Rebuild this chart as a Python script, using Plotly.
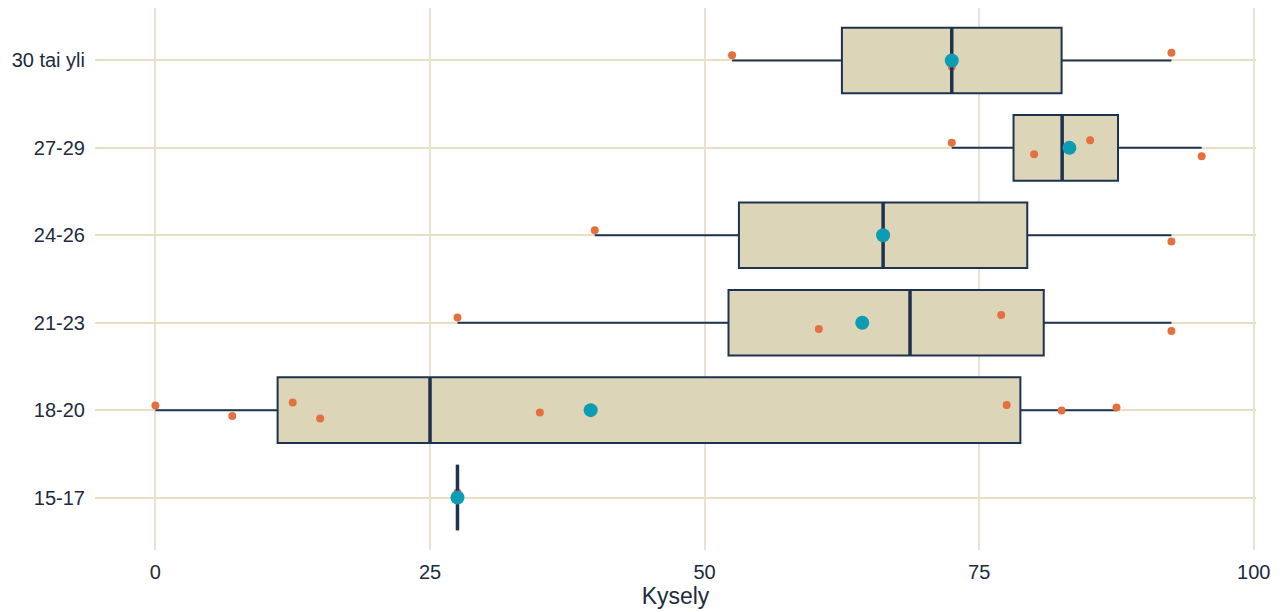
import numpy as np
import plotly.graph_objects as go

# ---- data ----
groups = ["15-17", "18-20", "21-23", "24-26", "27-29", "30 tai yli"]
v_15_17 = [27.5]
v_18_20 = [0.0, 7.0, 12.5, 15.0, 35.0, 77.5, 82.5, 87.5]
v_21_23 = [27.5, 60.4, 77.0, 92.5]
v_24_26 = [40.0, 92.5]
v_27_29 = [72.5, 80.0, 85.1, 95.25]
v_30_plus = [52.5, 72.5, 92.5]
group_values = [v_15_17, v_18_20, v_21_23, v_24_26, v_27_29, v_30_plus]
x_ticks = [0, 25, 50, 75, 100]
x_title = "Kysely"

# ---- styles ----
FILL = "#DDD5B8"
EDGE = "#1E3350"
ORANGE = "#E5703F"
TEAL = "#0E9CB4"
TEXT = "#1C2B40"
FONT = "Liberation Sans, Arial, sans-serif"
BOXW = 0.75

fig = go.Figure()

# boxes from statistics (R type-7 quantiles, like ggplot)
for i, vals in enumerate(group_values):
    v = np.array(vals, dtype=float)
    fig.add_trace(go.Box(
        orientation="h", y=[i],
        q1=[np.percentile(v, 25)], median=[np.median(v)], q3=[np.percentile(v, 75)],
        lowerfence=[v.min()], upperfence=[v.max()],
        width=BOXW, whiskerwidth=0,
        fillcolor=FILL, line=dict(color=EDGE, width=2),
        boxpoints=False, hoverinfo="skip", showlegend=False,
    ))

# thicker median lines
mx, my = [], []
for i, vals in enumerate(group_values):
    m = float(np.median(vals))
    mx += [m, m, None]
    my += [i - BOXW / 2, i + BOXW / 2, None]
fig.add_trace(go.Scatter(x=mx, y=my, mode="lines", line=dict(color=EDGE, width=3.5),
                         hoverinfo="skip", showlegend=False))

# means
fig.add_trace(go.Scatter(
    x=[float(np.mean(v)) for v in group_values], y=list(range(len(groups))),
    mode="markers", marker=dict(color=TEAL, size=14),
    hoverinfo="skip", showlegend=False,
))

# jittered raw points
for i, vals in enumerate(group_values):
    fig.add_trace(go.Box(
        orientation="h", x=vals, y=[i] * len(vals),
        width=BOXW, boxpoints="all", jitter=0.3, pointpos=0,
        fillcolor="rgba(0,0,0,0)", line=dict(color="rgba(0,0,0,0)", width=0),
        marker=dict(color=ORANGE, size=8),
        hoverinfo="x", showlegend=False,
    ))

fig.update_layout(
    width=1272, height=604,
    paper_bgcolor="white", plot_bgcolor="white",
    margin=dict(l=87, r=24, t=0, b=62),
    boxmode="overlay",
    font=dict(family=FONT, color=TEXT, size=20),
    xaxis=dict(
        range=[-5.5, 100.2], tickvals=x_ticks, zeroline=False, showline=False,
        gridcolor="#E7E2D4", gridwidth=1.5,
        ticks="outside", ticklen=4, tickcolor="rgba(0,0,0,0)",
        tickfont=dict(size=20, color=TEXT),
        title=dict(text=x_title, font=dict(size=23, color=TEXT), standoff=5),
    ),
    yaxis=dict(
        range=[-0.6, 5.6], tickvals=list(range(len(groups))), ticktext=groups,
        zeroline=False, showline=False,
        gridcolor="#EADFC4", gridwidth=2,
        ticks="outside", ticklen=5, tickcolor="rgba(0,0,0,0)",
        tickfont=dict(size=20, color=TEXT),
    ),
)

fig.write_html("out.html")
